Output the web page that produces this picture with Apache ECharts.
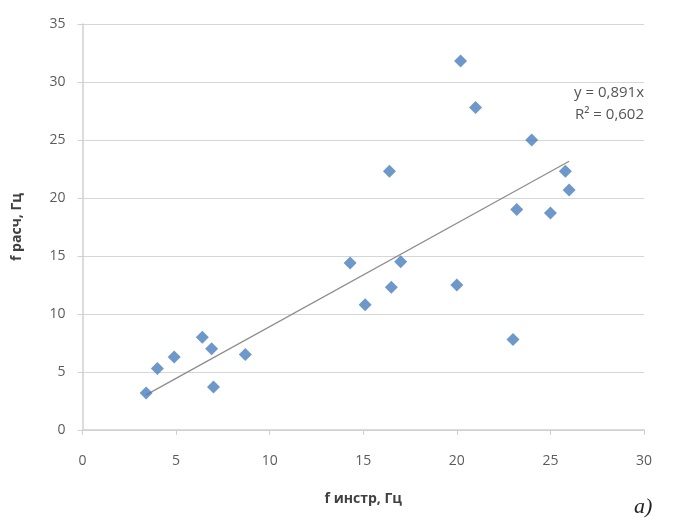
<!DOCTYPE html>
<html>
<head>
<meta charset="utf-8">
<script src="https://cdn.jsdelivr.net/npm/echarts@6/dist/echarts.min.js"></script>
<style>html,body{margin:0;padding:0;background:#fff}#c{width:685px;height:529px}</style>
</head>
<body>
<div id="c"></div>
<script>
var fInstr = [3.4, 4.0, 4.9, 6.4, 6.9, 7.0, 8.7, 14.3, 15.1, 16.4, 16.5, 17.0, 20.0, 20.2, 21.0, 23.0, 23.2, 24.0, 25.0, 25.8, 26.0];
var fRasch = [3.2, 5.3, 6.3, 8.0, 7.0, 3.7, 6.5, 14.4, 10.8, 22.3, 12.3, 14.5, 12.5, 31.8, 27.8, 7.8, 19.0, 25.0, 18.7, 22.3, 20.7];
var trendSlope = 0.891;
var trendR2 = 0.602;
var xTicks = [0, 5, 10, 15, 20, 25, 30];
var yTicks = [0, 5, 10, 15, 20, 25, 30, 35];
var xName = 'f инстр, Гц';
var yName = 'f расч, Гц';

var pts = fInstr.map(function (x, i) { return [x, fRasch[i]]; });
var xmin = Math.min.apply(null, fInstr), xmax = Math.max.apply(null, fInstr);
var trend = [[xmin, trendSlope * xmin], [xmax, trendSlope * xmax]];

var chart = echarts.init(document.getElementById('c'));
var font = '"Open Sans", "Liberation Sans", sans-serif';
chart.setOption({
  animation: false,
  grid: { left: 82.5, right: 41, top: 24, bottom: 99, containLabel: false, outerBoundsMode: 'none' },
  xAxis: {
    type: 'value', min: xTicks[0], max: xTicks[xTicks.length - 1], interval: 5,
    name: xName, nameLocation: 'middle', nameGap: 62,
    nameTextStyle: { fontFamily: font, fontSize: 14, fontWeight: 'bold', color: '#404040' },
    axisLine: { show: true, lineStyle: { color: '#d0d0d0', width: 1.5 } },
    axisTick: { show: true, length: 5, lineStyle: { color: '#d0d0d0' } },
    axisLabel: { margin: 24, fontFamily: font, fontSize: 14, color: '#5c5c5c' },
    splitLine: { show: false }
  },
  yAxis: {
    type: 'value', min: yTicks[0], max: yTicks[yTicks.length - 1], interval: 5,
    name: yName, nameLocation: 'middle', nameGap: 58, nameRotate: 90,
    nameTextStyle: { fontFamily: font, fontSize: 14, fontWeight: 'bold', color: '#404040' },
    axisLine: { show: true, lineStyle: { color: '#d0d0d0', width: 1.5 } },
    axisTick: { show: true, length: 5, lineStyle: { color: '#d0d0d0' } },
    axisLabel: { margin: 17, fontFamily: font, fontSize: 14, color: '#5c5c5c' },
    splitLine: { show: true, lineStyle: { color: '#d6d6d6', width: 1.2 } }
  },
  series: [
    {
      type: 'line', data: trend, symbol: 'none', silent: true,
      lineStyle: { color: '#8c8c8c', width: 1.2 }, z: 1
    },
    {
      type: 'scatter', data: pts, symbol: 'diamond', symbolSize: 13,
      itemStyle: { color: '#4a7ebb' }, z: 3
    }
  ],
  graphic: [
    { type: 'text', right: 41, top: 85, style: { text: 'y = ' + String(trendSlope).replace('.', ',') + 'x', font: '15px ' + font, fill: '#555', textAlign: 'right' } },
    { type: 'text', right: 41, top: 107, style: { text: 'R² = ' + String(trendR2).replace('.', ','), font: '15px ' + font, fill: '#555', textAlign: 'right' } },
    { type: 'text', left: 634, top: 496, style: { text: 'a)', font: 'italic 22px "Liberation Serif", serif', fill: '#222' } }
  ]
});
</script>
</body>
</html>
